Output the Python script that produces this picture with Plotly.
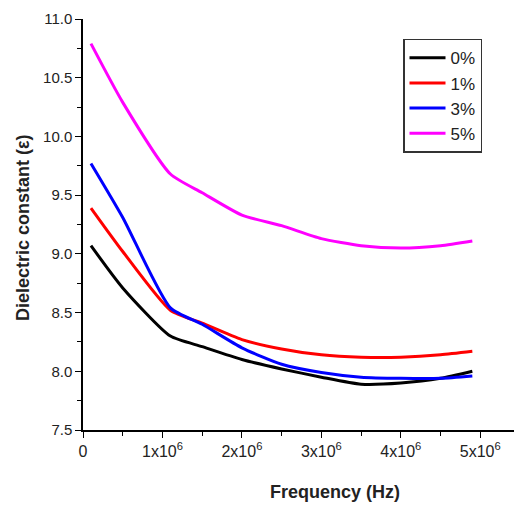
import plotly.graph_objects as go

# frequency (Hz) and dielectric constant for each doping level
freq = [0.1e6, 0.5e6, 1.1e6, 1.5e6, 2.0e6, 2.5e6, 3.0e6, 3.5e6, 4.0e6, 4.5e6, 4.9e6]
eps_0 = [9.07, 8.71, 8.30, 8.21, 8.10, 8.02, 7.95, 7.89, 7.90, 7.94, 8.00]
eps_1 = [9.39, 9.02, 8.52, 8.41, 8.27, 8.19, 8.14, 8.12, 8.12, 8.14, 8.17]
eps_3 = [9.77, 9.31, 8.54, 8.40, 8.20, 8.06, 7.99, 7.95, 7.94, 7.94, 7.96]
eps_5 = [10.79, 10.29, 9.68, 9.52, 9.33, 9.24, 9.13, 9.07, 9.05, 9.07, 9.11]

labels = ['0%', '1%', '3%', '5%']
colors = ['#000000', '#ff0000', '#0000ff', '#ff00ff']

y_ticks = [7.5, 8.0, 8.5, 9.0, 9.5, 10.0, 10.5, 11.0]
x_ticks = [0, 1e6, 2e6, 3e6, 4e6, 5e6]
x_ticktext = ['0', '1x10<sup>6</sup>', '2x10<sup>6</sup>', '3x10<sup>6</sup>',
              '4x10<sup>6</sup>', '5x10<sup>6</sup>']

fig = go.Figure()
for name, ys, col in zip(labels, [eps_0, eps_1, eps_3, eps_5], colors):
    fig.add_trace(go.Scatter(x=freq, y=ys, mode='lines', name=name,
                             line=dict(color=col, width=3, shape='spline', smoothing=0.6)))

# the page body adds an 8px margin, so the figure is drawn 8px smaller
axis_font = 'Liberation Sans, Arial, sans-serif'
fig.update_layout(
    width=514, height=500,
    margin=dict(l=75, r=2, t=7, b=78),
    plot_bgcolor='white', paper_bgcolor='white',
    font=dict(family=axis_font, color='#222222'),
    showlegend=True,
    legend=dict(x=(395 - 75) / 437, y=(422 - 27) / 415, xanchor='left', yanchor='top',
                bordercolor='#333333', borderwidth=1.5, bgcolor='white',
                font=dict(size=17, color='#222222'), itemwidth=36,
                tracegroupgap=0),
)
fig.update_xaxes(range=[0, 5.5e6], tickvals=x_ticks, ticktext=x_ticktext,
                 showgrid=False, zeroline=False, showline=True, linecolor='black', linewidth=1.5,
                 ticks='outside', ticklen=6, tickwidth=1.2, tickcolor='black',
                 tickfont=dict(size=16), ticklabeloverflow='allow',
                 minor=dict(dtick=0.5e6, tick0=0, ticks='outside', ticklen=4, tickcolor='black', showgrid=False))
fig.update_yaxes(range=[7.5, 11.0], tickvals=y_ticks, ticktext=['%.1f' % v for v in y_ticks],
                 showgrid=False, zeroline=False, showline=True, linecolor='black', linewidth=1.5,
                 ticks='outside', ticklen=6, tickwidth=1.2, tickcolor='black',
                 tickfont=dict(size=15), ticklabeloverflow='allow',
                 minor=dict(dtick=0.25, tick0=7.5, ticks='outside', ticklen=4, tickcolor='black', showgrid=False))

fig.add_annotation(text='<b>Frequency (Hz)</b>', xref='paper', yref='paper', x=(327 - 75) / 437, y=-63 / 415,
                   showarrow=False, font=dict(size=18, color='#222222'), xanchor='center', yanchor='middle')
fig.add_annotation(text='<b>Dielectric constant (ε)</b>', xref='paper', yref='paper', x=(15 - 75) / 437, y=(422 - 218) / 415,
                   showarrow=False, textangle=-90, font=dict(size=18, color='#222222'), xanchor='center', yanchor='middle')

fig.write_html("out.html")
